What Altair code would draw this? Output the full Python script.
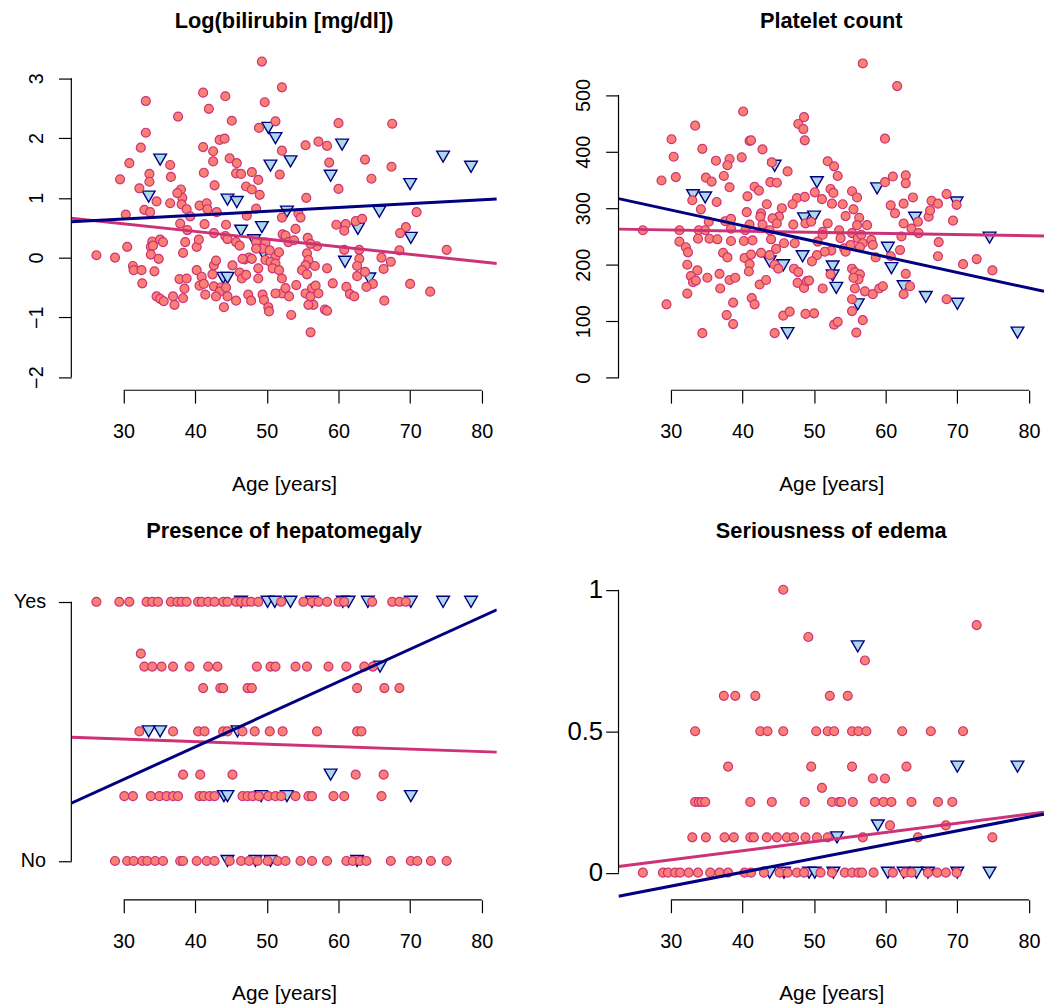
import altair as alt
import pandas as pd

# ---------------- values ----------------
age_ticks = [30, 40, 50, 60, 70, 80]
age_domain = [22.7, 82.1]
line_age = [22.7, 82.1]

# Panel 1: Log(bilirubin [mg/dl])  (age, value)
bili_circles = [
    (49.3, 3.28), (52.1, 2.85), (33.1, 2.62), (41.1, 2.76), (44.2, 2.70), (41.9, 2.49),
    (37.6, 2.36), (49.7, 2.60), (51.2, 2.28), (45.1, 2.29), (48.9, 2.17), (33.1, 2.09),
    (32.4, 1.84), (30.8, 1.58), (29.5, 1.31), (33.6, 1.40), (33.6, 1.27), (32.2, 1.16),
    (36.5, 1.55), (36.6, 1.35), (43.4, 1.97), (44.1, 1.99), (41.1, 1.85), (42.5, 1.78),
    (42.5, 1.61), (44.8, 1.66), (45.8, 1.58), (45.7, 1.41), (46.4, 1.40), (47.9, 1.43),
    (48.8, 1.30), (52.1, 1.79), (51.8, 1.39), (41.2, 1.42), (42.7, 1.21), (38.0, 1.14),
    (38.2, 1.00), (37.5, 1.08), (47.1, 1.19), (47.9, 1.14), (49.0, 1.05), (34.6, 0.94),
    (36.5, 0.91), (30.3, 0.72), (32.9, 0.80), (33.7, 0.76), (38.1, 0.89), (38.8, 0.81),
    (39.3, 0.69), (40.6, 0.87), (41.6, 0.91), (41.7, 0.81), (43.0, 0.76), (48.5, 0.82),
    (47.2, 0.70), (52.1, 0.67), (37.9, 0.57), (38.9, 0.46), (41.3, 0.56), (44.3, 0.55),
    (42.6, 0.41), (44.2, 0.36), (44.5, 0.31), (45.7, 0.26), (46.2, 0.20), (52.2, 0.39),
    (34.0, 0.27), (35.1, 0.30), (35.5, 0.26), (33.8, 0.18), (34.1, 0.20), (30.5, 0.18),
    (26.2, 0.04), (28.8, 0.00), (33.8, 0.05), (34.9, -0.02), (38.6, 0.26), (38.3, 0.08),
    (40.2, 0.18), (40.5, 0.30), (48.5, 0.26), (49.8, 0.25), (49.4, 0.15), (48.5, 0.15),
    (50.4, 0.12), (51.2, 0.01), (51.7, 0.09), (46.9, -0.03), (47.5, 0.00), (47.9, -0.02),
    (31.3, -0.14), (31.4, -0.21), (32.5, -0.21), (32.6, -0.43), (34.3, -0.23), (37.8, -0.36),
    (38.8, -0.35), (38.5, -0.52), (40.2, -0.21), (40.9, -0.32), (40.6, -0.47), (41.2, -0.44),
    (41.4, -0.62), (42.6, -0.13), (42.9, -0.05), (42.4, -0.28), (42.6, -0.48), (43.6, -0.50),
    (43.4, -0.57), (44.3, -0.50), (42.9, -0.65), (44.0, -0.83), (44.5, -0.65), (45.7, -0.72),
    (45.2, -0.13), (46.2, -0.25), (46.5, -0.35), (47.1, -0.29), (46.6, -0.02), (48.8, -0.18),
    (48.8, -0.35), (49.8, -0.04), (50.5, -0.07), (51.2, -0.10), (50.8, -0.18), (51.7, -0.21),
    (52.1, -0.35), (52.1, -0.60), (47.4, -0.62), (47.8, -0.72), (49.4, -0.62), (49.6, -0.71),
    (50.2, -0.83), (50.3, -0.90), (51.2, -0.60), (34.6, -0.65), (35.1, -0.69), (35.6, -0.73),
    (36.9, -0.65), (37.1, -0.79), (38.3, -0.68),
    (60.0, 2.25), (67.5, 2.24), (55.4, 1.88), (57.2, 1.94), (58.4, 1.87), (63.7, 1.64),
    (58.7, 1.59), (67.4, 1.52), (64.6, 1.32), (60.0, 1.15), (55.5, 1.00), (54.4, 0.74),
    (54.7, 0.67), (70.9, 0.76), (59.7, 0.55), (61.0, 0.56), (60.8, 0.45), (62.4, 0.61),
    (63.3, 0.65), (69.4, 0.51), (68.6, 0.41), (54.0, 0.48), (52.6, 0.37), (53.0, 0.26),
    (53.8, 0.29), (55.7, 0.33), (57.0, 0.19), (56.1, 0.23), (60.8, 0.13), (62.9, 0.13),
    (62.9, -0.02), (62.6, -0.14), (66.0, 0.00), (67.3, -0.07), (66.3, -0.19), (68.5, 0.12),
    (75.1, 0.13), (55.6, 0.07), (55.8, -0.04), (55.4, -0.13), (56.7, -0.14), (58.4, -0.18),
    (54.9, -0.21), (55.6, -0.28), (62.6, -0.31), (63.7, -0.24), (64.8, -0.44), (63.9, -0.49),
    (59.2, -0.43), (61.1, -0.49), (61.6, -0.61), (62.2, -0.65), (70.0, -0.44), (72.8, -0.57),
    (66.4, -0.72), (52.6, -0.51), (53.1, -0.65), (54.1, -0.46), (55.4, -0.60), (56.1, -0.65),
    (56.3, -0.51), (56.8, -0.47), (56.5, -0.79), (55.8, -0.79), (57.2, -0.60), (58.1, -0.87),
    (58.4, -0.89), (53.4, -0.96), (56.1, -1.25),
]
bili_triangles = [
    (35.1, 1.64), (33.5, 1.02), (50.2, 2.17), (51.2, 2.00), (50.5, 1.54), (44.5, 0.97),
    (45.8, 0.93), (46.4, 0.45), (49.3, 0.51), (48.2, 0.29), (49.5, 0.07), (43.9, -0.34),
    (44.5, -0.34), (74.6, 1.69), (78.5, 1.52), (60.5, 1.89), (53.3, 1.61), (58.9, 1.37),
    (70.0, 1.23), (65.7, 0.77), (62.7, 0.48), (70.1, 0.33), (60.9, -0.07), (64.3, -0.35),
    (52.8, 0.77),
]
bili_line_pink = [0.66, -0.10]
bili_line_navy = [0.60, 0.98]

# Panel 2: Platelet count
plt_circles = [
    (40.1, 471), (48.6, 461), (47.8, 449), (48.5, 440), (48.7, 420), (33.4, 446), (30.1, 422),
    (30.4, 391), (34.4, 405), (41.0, 419), (41.2, 420), (42.8, 404), (39.9, 390), (36.3, 384),
    (38.2, 387), (37.9, 376), (37.4, 357), (44.1, 381), (46.3, 365), (28.7, 349), (30.7, 355),
    (34.9, 354), (35.7, 347), (38.2, 337), (41.7, 338), (42.3, 331), (43.9, 346), (44.8, 345),
    (40.7, 321), (43.4, 307), (36.4, 311), (33.0, 314), (34.2, 298), (40.6, 293), (47.6, 318),
    (48.7, 320), (47.0, 307), (45.5, 300), (42.6, 291), (42.5, 285), (45.1, 285), (44.2, 282),
    (44.8, 273), (37.6, 277), (38.4, 281), (35.3, 276), (41.0, 271), (42.8, 271), (47.1, 271),
    (48.8, 273), (49.6, 276), (26.1, 261), (31.2, 261), (33.9, 261), (34.8, 261), (38.4, 264),
    (40.4, 261), (43.8, 261), (33.8, 246), (35.4, 246), (36.5, 245), (38.4, 242), (40.2, 242),
    (41.4, 243), (31.2, 241), (32.1, 231), (32.4, 222), (44.0, 245), (44.7, 228), (45.8, 238),
    (47.3, 238), (37.3, 221), (37.9, 213), (40.3, 212), (41.2, 218), (41.0, 201), (40.9, 188),
    (42.6, 221), (43.8, 217), (44.5, 200), (45.0, 193), (32.3, 200), (33.7, 190), (32.8, 180),
    (33.1, 169), (33.5, 172), (35.1, 177), (36.8, 184), (38.2, 173), (39.0, 177), (36.9, 158),
    (42.4, 165), (43.3, 173), (47.2, 193), (47.8, 187), (47.7, 168), (48.6, 159), (49.0, 171),
    (49.3, 172), (32.3, 149), (29.4, 130), (41.3, 141), (41.7, 130), (38.7, 133), (37.8, 111),
    (38.7, 95), (34.4, 79), (44.5, 79), (45.7, 110), (46.6, 117), (48.8, 113), (50.0, 114),
    (56.8, 556), (61.6, 516), (59.9, 423), (51.9, 383), (52.8, 374), (53.3, 357), (59.9, 346),
    (61.0, 356), (62.8, 358), (62.8, 344), (55.3, 330), (56.0, 319), (52.3, 334), (52.7, 327),
    (52.5, 308), (51.1, 316), (50.1, 328), (54.0, 307), (54.4, 286), (55.5, 298), (56.3, 283),
    (57.4, 270), (56.0, 270), (51.9, 273), (53.5, 261), (53.7, 247), (51.2, 258), (50.5, 241),
    (51.2, 253), (55.3, 256), (56.1, 247), (56.6, 253), (56.8, 238), (56.4, 231), (58.0, 244),
    (58.2, 235), (54.2, 229), (55.1, 235), (54.4, 223), (52.4, 225), (51.5, 223), (50.4, 217),
    (49.7, 206), (58.6, 213), (60.7, 215), (62.0, 226), (60.7, 305), (61.3, 291), (62.5, 308),
    (63.8, 319), (62.5, 273), (63.6, 264), (64.5, 276), (64.6, 256), (62.2, 250), (66.0, 285),
    (66.2, 296), (66.4, 313), (67.3, 308), (68.5, 325), (69.9, 306), (69.4, 278), (67.4, 240),
    (67.3, 215), (70.8, 201), (72.7, 210), (74.9, 190), (55.3, 193), (55.7, 187), (56.4, 183),
    (56.2, 174), (55.5, 177), (52.3, 183), (51.2, 158), (55.7, 158), (57.1, 153), (58.2, 148),
    (59.1, 158), (59.6, 162), (62.8, 184), (63.4, 162), (62.5, 148), (55.3, 139), (55.3, 118),
    (56.8, 102), (52.8, 94), (53.3, 99), (55.9, 80), (68.5, 139),
]
plt_triangles = [
    (33.1, 323), (34.8, 319), (44.5, 375), (48.6, 282), (50.0, 285), (50.4, 346), (48.4, 215),
    (45.7, 199), (43.8, 206), (46.3, 79), (58.8, 335), (69.9, 310), (64.1, 283), (74.5, 248),
    (60.3, 230), (60.8, 194), (52.6, 197), (52.6, 181), (53.1, 159), (62.5, 162), (65.6, 143),
    (70.0, 131), (78.4, 80), (56.1, 130),
]
plt_line_pink = [263, 251]
plt_line_navy = [317, 153]

# Panel 3: Presence of hepatomegaly (levels and the ages found at each level)
hep_levels = [1.0, 0.8, 0.75, 0.667, 0.5, 0.333, 0.25, 0.0]
hep_circle_ages = [
    [26.2, 29.4, 30.8, 33.2, 34.0, 34.8, 36.6, 37.5, 38.1, 38.8, 40.4, 40.9, 41.8, 42.7, 43.9,
     44.5, 45.7, 46.4, 47.1, 47.8, 48.8, 52.0, 55.1, 56.3, 57.2, 58.4, 60.0, 60.8, 64.7, 67.5,
     68.5, 69.4],
    [32.4],
    [32.9, 34.0, 35.3, 36.9, 39.2, 41.8, 43.1, 48.6, 50.5, 51.2, 54.0, 55.6, 58.6, 61.1, 63.6, 64.8],
    [41.1, 43.5, 43.9, 47.3, 47.9, 62.6, 66.4, 68.5],
    [32.2, 36.9, 40.4, 41.3, 43.9, 44.5, 46.6, 48.3, 50.4, 52.2, 57.0, 62.6, 63.2],
    [38.3, 40.7, 45.2, 62.4, 66.3],
    [30.1, 31.3, 33.8, 35.0, 36.0, 36.9, 37.6, 40.6, 41.2, 42.0, 42.7, 46.6, 47.3, 48.0, 48.9,
     50.2, 51.2, 52.0, 54.0, 55.8, 56.3, 59.3, 60.8, 66.0],
    [28.8, 30.5, 31.4, 32.6, 33.3, 34.4, 35.5, 37.9, 38.3, 40.2, 41.6, 42.7, 44.8, 46.4, 47.5,
     48.7, 50.1, 51.5, 52.6, 54.7, 56.3, 58.4, 61.1, 62.0, 63.0, 63.9, 67.3, 70.1, 71.0, 72.9, 75.1],
]
hep_triangle_ages = [
    [46.4, 50.1, 51.1, 53.3, 56.3, 60.6, 61.4, 64.1, 70.1, 74.6, 78.5],
    [],
    [65.8],
    [],
    [33.5, 35.1, 45.9],
    [58.9],
    [44.0, 44.5, 49.2, 52.8, 70.1],
    [44.5, 48.4, 50.5, 62.6],
]
hep_line_pink = [0.477, 0.420]
hep_line_navy = [0.223, 0.969]

# Panel 4: Seriousness of edema
ede_levels = [1.0, 0.875, 0.833, 0.8, 0.75, 0.625, 0.5, 0.375, 0.333, 0.3, 0.25, 0.167, 0.125, 0.0]
ede_circle_ages = [
    [45.7],
    [72.7],
    [49.2],
    [],
    [57.1],
    [37.4, 39.0, 41.8, 52.2, 54.7],
    [33.4, 42.5, 43.5, 45.7, 50.3, 51.9, 52.8, 55.3, 56.2, 57.3, 62.3, 66.3, 70.8],
    [38.0, 49.6, 55.3, 62.9],
    [58.2, 59.9],
    [51.1],
    [33.4, 33.9, 34.3, 34.8, 41.1, 44.1, 48.7, 52.5, 53.5, 53.8, 55.4, 58.5, 59.7, 60.8, 63.6,
     67.3, 69.3],
    [60.6, 68.4],
    [33.0, 34.9, 37.5, 38.8, 41.1, 41.6, 43.4, 44.8, 46.2, 47.2, 48.8, 50.4, 51.9, 56.8, 64.5, 74.9],
    [26.1, 28.9, 29.6, 30.6, 31.3, 32.5, 33.8, 35.5, 36.8, 38.0, 40.3, 41.2, 43.0, 45.2, 46.3,
     47.6, 48.6, 50.9, 52.5, 54.3, 55.3, 56.2, 56.7, 58.3, 61.0, 62.7, 63.6, 65.9, 67.2, 68.4, 69.9],
]
ede_triangle_ages = [
    [], [], [], [56.1], [], [], [], [70.0, 78.4], [], [], [], [58.9], [53.2],
    [43.8, 45.8, 49.3, 50.1, 52.7, 60.3, 62.5, 64.3, 65.9, 70.0, 74.5],
]
ede_line_pink = [0.022, 0.214]
ede_line_navy = [-0.083, 0.207]

# ---------------- styling ----------------
FONT = "Liberation Sans"
CIRC_FILL = "#FA8072"
CIRC_STROKE = "#CD3278"
TRI_FILL = "#ADD8E6"
TRI_STROKE = "#000080"
LINE_PINK = "#CD3278"
LINE_NAVY = "#000080"
W, H = 430, 340
Y_EXTENT = 57
X_EXTENT = 52


def rows_to_pairs(levels, ages):
    return [(a, lv) for lv, row in zip(levels, ages) for a in row]


def panel(title, circles, triangles, pink, navy, ydomain, yticks, yaxis):
    circ_df = pd.DataFrame(circles, columns=["age", "val"])
    tri_df = pd.DataFrame(triangles, columns=["age", "val"])
    line_df = pd.DataFrame({
        "age": line_age + line_age,
        "val": pink + navy,
        "fit": ["a", "a", "b", "b"],
    })
    xrule_df = pd.DataFrame({"age": [age_ticks[0]], "hi": [age_ticks[-1]]})
    yrule_df = pd.DataFrame({"val": [yticks[0]], "hi": [yticks[-1]]})

    xs = alt.Scale(domain=age_domain, nice=False, zero=False)
    ys = alt.Scale(domain=ydomain, nice=False, zero=False)

    x_axis = alt.Axis(values=age_ticks, format="d", title="Age [years]",
                      labelPadding=19, titlePadding=32, titleFontSize=21,
                      minExtent=X_EXTENT, maxExtent=X_EXTENT)
    X = alt.X("age:Q", scale=xs, axis=x_axis)
    Y = alt.Y("val:Q", scale=ys, axis=yaxis)

    tri = alt.Chart(tri_df).mark_point(
        shape="triangle-down", filled=True, fill=TRI_FILL, stroke=TRI_STROKE,
        strokeWidth=1.4, size=165, opacity=1,
    ).encode(x=X, y=Y)
    circ = alt.Chart(circ_df).mark_point(
        shape="circle", filled=True, fill=CIRC_FILL, stroke=CIRC_STROKE,
        strokeWidth=1.2, size=82, opacity=1,
    ).encode(x=X, y=Y)
    lines = alt.Chart(line_df).mark_line(strokeWidth=3, clip=True).encode(
        x=X, y=Y,
        color=alt.Color("fit:N", scale=alt.Scale(domain=["a", "b"], range=[LINE_PINK, LINE_NAVY]),
                        legend=None),
    )
    xrule = alt.Chart(xrule_df).mark_rule(color="black", strokeWidth=1.2).encode(
        x=X, x2="hi:Q", y=alt.value(H),
    )
    yrule = alt.Chart(yrule_df).mark_rule(color="black", strokeWidth=1.2).encode(
        y=Y, y2="hi:Q", x=alt.value(0),
    )
    return alt.layer(tri, circ, lines, xrule, yrule).properties(
        width=W, height=H, title=alt.TitleParams(text=title)
    )


rot = dict(labelAngle=270, labelAlign="center", labelBaseline="bottom", labelPadding=12,
           minExtent=Y_EXTENT, maxExtent=Y_EXTENT)

p1 = panel(
    "Log(bilirubin [mg/dl])", bili_circles, bili_triangles, bili_line_pink, bili_line_navy,
    [-2.22, 3.41], [-2, -1, 0, 1, 2, 3],
    alt.Axis(values=[-2, -1, 0, 1, 2, 3], format="~g", title=None, **rot),
)
p2 = panel(
    "Platelet count", plt_circles, plt_triangles, plt_line_pink, plt_line_navy,
    [-22, 573], [0, 100, 200, 300, 400, 500],
    alt.Axis(values=[0, 100, 200, 300, 400, 500], format="d", title=None, **rot),
)
p3 = panel(
    "Presence of hepatomegaly",
    rows_to_pairs(hep_levels, hep_circle_ages), rows_to_pairs(hep_levels, hep_triangle_ages),
    hep_line_pink, hep_line_navy,
    [-0.15, 1.148], [0, 1],
    alt.Axis(values=[0, 1], labelExpr="datum.value == 1 ? 'Yes' : 'No'", title=None,
             labelPadding=13, minExtent=Y_EXTENT, maxExtent=Y_EXTENT),
)
p4 = panel(
    "Seriousness of edema",
    rows_to_pairs(ede_levels, ede_circle_ages), rows_to_pairs(ede_levels, ede_triangle_ages),
    ede_line_pink, ede_line_navy,
    [-0.096, 1.093], [0, 0.5, 1],
    alt.Axis(values=[0, 0.5, 1], format="~g", title=None, labelPadding=3, labelFontSize=26,
             minExtent=Y_EXTENT, maxExtent=Y_EXTENT),
)

chart = alt.concat(
    p1, p2, p3, p4, columns=2, spacing={"row": 26, "column": 66},
).properties(
    padding={"left": 5, "top": -3, "right": 0, "bottom": 2}
).configure_view(stroke=None).configure_axis(
    labelFont=FONT, labelFontSize=20, labelColor="black",
    titleFont=FONT, titleFontSize=20, titleFontWeight="normal", titleColor="black",
    tickColor="black", tickSize=13, tickWidth=1.2, domain=False, grid=False, labelFlush=False,
).configure_title(
    font=FONT, fontSize=22, fontWeight="bold", color="black", anchor="middle",
    frame="group", offset=21, baseline="bottom",
)

chart.save("out.html", embed_options={"renderer": "svg", "actions": False})
